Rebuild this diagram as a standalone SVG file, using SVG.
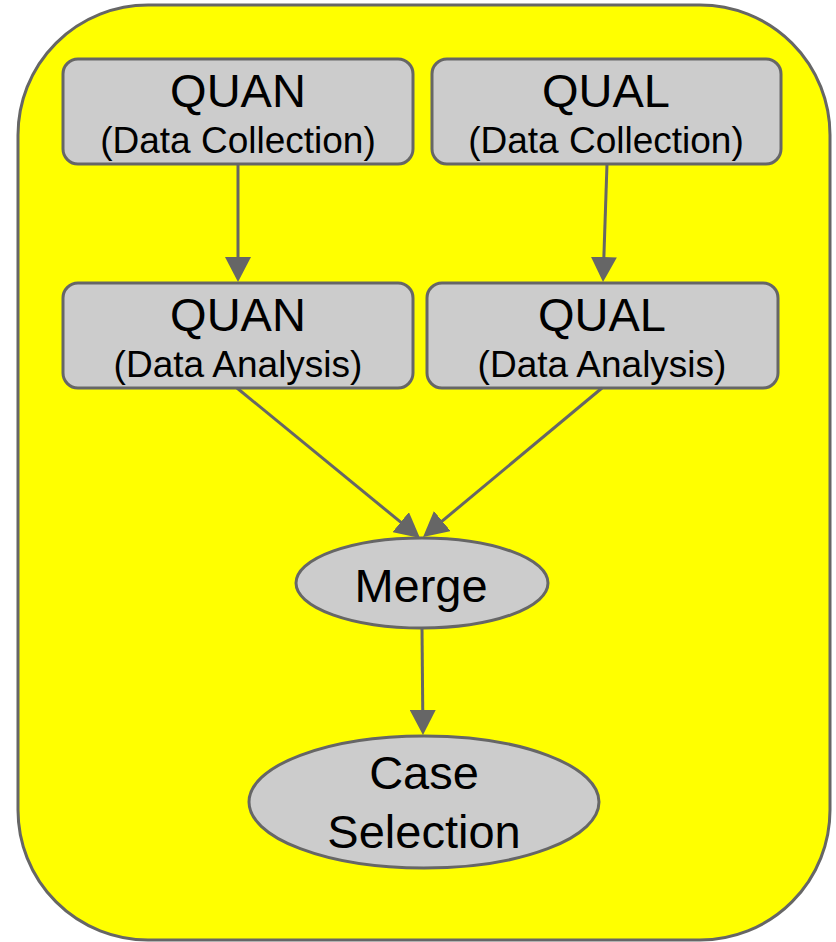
<svg xmlns="http://www.w3.org/2000/svg" width="836" height="942" viewBox="0 0 836 942">
<style>
.box{fill:#cccccc;stroke:#666666;stroke-width:3}
.t{font-family:"Liberation Sans",Arial,sans-serif;fill:#000;text-anchor:middle}
.big{font-size:47px}
.small{font-size:37px}
.edge{fill:none;stroke:#666666;stroke-width:3;marker-end:url(#ah)}
</style>
<defs>
<marker id="ah" markerUnits="userSpaceOnUse" markerWidth="26" markerHeight="26" viewBox="0 0 26 26" refX="17" refY="13" orient="auto">
<path d="M0,0 L25,13 L0,26 z" fill="#666666"/>
</marker>
</defs>
<rect id="container" x="18" y="5" width="812" height="935" rx="130" ry="130" fill="#ffff00" stroke="#666666" stroke-width="3"/>
<g id="quan-dc">
<rect class="box" x="63" y="59" width="350" height="105" rx="15"/>
<text class="t big" x="238" y="107">QUAN</text>
<text class="t small" x="238" y="153">(Data Collection)</text>
</g>
<g id="qual-dc">
<rect class="box" x="432" y="59" width="349" height="105" rx="15"/>
<text class="t big" x="606" y="107">QUAL</text>
<text class="t small" x="606" y="153">(Data Collection)</text>
</g>
<g id="quan-da">
<rect class="box" x="63" y="283" width="350" height="105" rx="15"/>
<text class="t big" x="238" y="331">QUAN</text>
<text class="t small" x="238" y="377">(Data Analysis)</text>
</g>
<g id="qual-da">
<rect class="box" x="427" y="283" width="351" height="105" rx="15"/>
<text class="t big" x="602" y="331">QUAL</text>
<text class="t small" x="602" y="377">(Data Analysis)</text>
</g>
<g id="merge">
<ellipse class="box" cx="422" cy="583" rx="126" ry="45"/>
<text class="t big" x="421" y="602">Merge</text>
</g>
<g id="case-selection">
<ellipse class="box" cx="424" cy="802" rx="175" ry="66"/>
<text class="t big" x="424" y="789">Case</text>
<text class="t big" x="424" y="848">Selection</text>
</g>
<g id="connectors">
<path class="edge" d="M238,164 L238,274"/>
<path class="edge" d="M607,164 L603.3,274"/>
<path class="edge" d="M237,388 L413.8,532.9"/>
<path class="edge" d="M602,388 L429.2,531.9"/>
<path class="edge" d="M422,628 L422.9,727"/>
</g>
</svg>
